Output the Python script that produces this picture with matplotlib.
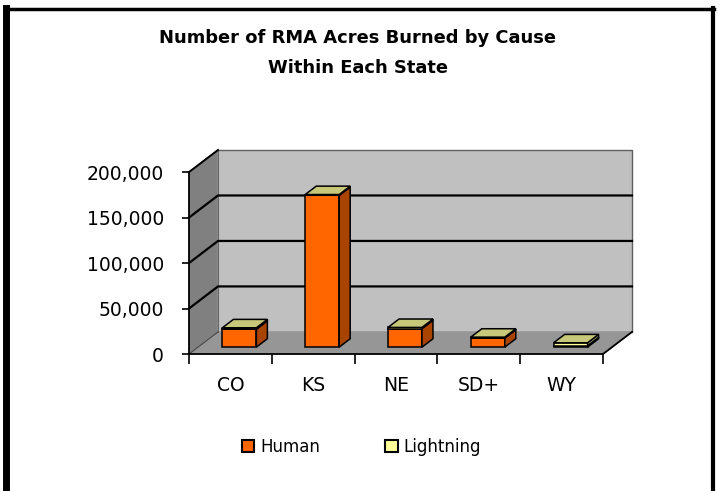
import matplotlib.pyplot as plt
import matplotlib.patches as mpatches
from matplotlib.lines import Line2D
from matplotlib.ticker import FuncFormatter

# data (acres burned)
states = ['CO', 'KS', 'NE', 'SD+', 'WY']
human = [19800, 167000, 20500, 10000, 1500]
lightning = [1500, 800, 1200, 1000, 3300]
yticks = [0, 50000, 100000, 150000, 200000]

# 3d look
DX = 0.35        # depth shift in category units
DY = 24300       # depth shift in value units
F0, F1 = 0.31, 0.69   # bar depth range
W = 0.41

c_human = ('#FF6600', '#A84400', '#FF944D')   # front, side, top
c_light = ('#FFFF99', '#A8A864', '#C8C87A')


def proj(x, v, d):
    return x + d * DX, v + d * DY


fig = plt.figure(figsize=(7.2, 4.91), dpi=100)
ax = fig.add_axes([189 / 720, 1 - 354 / 491, (632 - 189) / 720, (354 - 150) / 491])
ax.set_xlim(-0.5, 4.5 + DX)
ax.set_ylim(0, 200000 + DY)
ax.patch.set_visible(False)

n = len(states)
xl, xr = -0.5, n - 0.5
ymax = yticks[-1]

# walls and floor
ax.fill([xl, xl + DX, xl + DX, xl], [0, DY, ymax + DY, ymax], color='#808080', zorder=1)
ax.fill([xl + DX, xr + DX, xr + DX, xl + DX], [DY, DY, ymax + DY, ymax + DY],
        color='#C0C0C0', zorder=1)
ax.fill([xl, xr, xr + DX, xl + DX], [0, 0, DY, DY], color='#969696', zorder=1)
ax.plot([xl + DX, xr + DX, xr + DX], [ymax + DY, ymax + DY, DY], color='#606060', lw=1,
        zorder=2, clip_on=False)
ax.plot([xl + DX, xl + DX], [DY, ymax + DY], color='#666666', lw=0.8, zorder=2)
ax.plot([xr, xr + DX], [0, DY], color='black', lw=1.3, zorder=2, clip_on=False)
ax.plot([xl, xl + DX], [0, DY], color='#444444', lw=0.8, zorder=2)

for v in yticks[1:-1]:
    ax.plot([xl, xl + DX, xr + DX], [v, v + DY, v + DY], color='black', lw=1.6,
            zorder=2, clip_on=False)
ax.plot([xl, xl + DX], [ymax, ymax + DY], color='black', lw=1.4, zorder=2, clip_on=False)

# bars
z = 3
for i in range(n):
    x0, x1 = i - W / 2, i + W / 2
    segs = [(0, human[i], c_human), (human[i], human[i] + lightning[i], c_light)]
    for b, t, cols in segs:
        front = [proj(x0, b, F0), proj(x1, b, F0), proj(x1, t, F0), proj(x0, t, F0)]
        side = [proj(x1, b, F0), proj(x1, b, F1), proj(x1, t, F1), proj(x1, t, F0)]
        top = [proj(x0, t, F0), proj(x1, t, F0), proj(x1, t, F1), proj(x0, t, F1)]
        for poly, col in zip([front, side, top], cols):
            ax.add_patch(mpatches.Polygon(poly, closed=True, facecolor=col,
                                          edgecolor='black', lw=1.1, zorder=z))
        z += 1

# axes
for s in ['top', 'right']:
    ax.spines[s].set_visible(False)
ax.spines['left'].set_bounds(0, ymax)
ax.spines['bottom'].set_bounds(xl, xr)
ax.spines['left'].set_linewidth(1.3)
ax.spines['bottom'].set_linewidth(1.3)
ax.spines['left'].set_zorder(20)
ax.spines['bottom'].set_zorder(20)

ax.set_yticks(yticks)
ax.yaxis.set_major_formatter(FuncFormatter(lambda v, p: f'{int(v):,}'))
ax.tick_params(axis='y', length=5, width=1.2, pad=13, labelsize=13.5)

ax.set_xticks([k - 0.5 for k in range(n + 1)])
ax.set_xticklabels([])
ax.set_xticks(list(range(n)), minor=True)
ax.set_xticklabels(states, minor=True, fontsize=13.5)
ax.tick_params(axis='x', which='major', length=7, width=1.2, direction='out')
ax.tick_params(axis='x', which='minor', length=0, pad=16)

# title
fig.text(0.497, 1 - 38 / 491, 'Number of RMA Acres Burned by Cause', ha='center', va='center',
         fontsize=12.9, fontweight='bold')
fig.text(0.497, 1 - 68 / 491, 'Within Each State', ha='center', va='center',
         fontsize=12.9, fontweight='bold')

# legend
handles = [mpatches.Patch(facecolor='#FF6600', edgecolor='black', lw=1.5, label='Human'),
           mpatches.Patch(facecolor='#FFFF99', edgecolor='black', lw=1.5, label='Lightning')]
fig.legend(handles=handles, loc='center', bbox_to_anchor=(0.502, 1 - 447 / 491), ncol=2,
           frameon=False, handlelength=0.75, handleheight=0.75, handletextpad=0.35,
           columnspacing=3.9, fontsize=12)

# frame around the picture
fig.add_artist(Line2D([6 / 720, 714 / 720], [1 - 9 / 491, 1 - 9 / 491], color='black', lw=2.5))
fig.add_artist(Line2D([6 / 720, 6 / 720], [0, 1 - 8 / 491], color='black', lw=5))
fig.add_artist(Line2D([713 / 720, 713 / 720], [0, 1 - 8 / 491], color='black', lw=3))

fig.savefig('out.png', dpi=100)
